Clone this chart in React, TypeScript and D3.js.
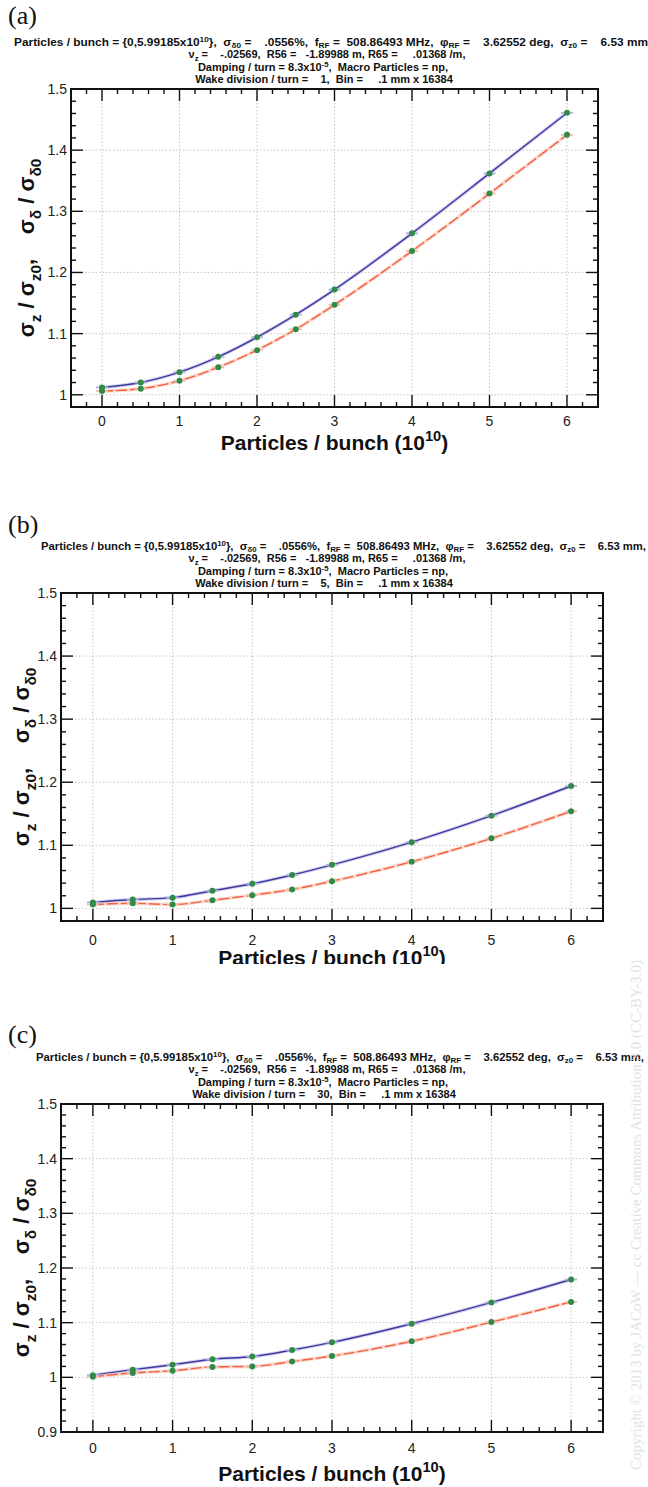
import { useEffect, useRef } from "react";
import * as d3 from "d3";

// particles per bunch (10^10)
const particles = [0, 0.5, 1, 1.5, 2, 2.5, 3, 4, 5, 6];
const xTicks = [0, 1, 2, 3, 4, 5, 6];

// (a) wake division / turn = 1
const sigZA = [1.012, 1.02, 1.037, 1.062, 1.094, 1.131, 1.172, 1.264, 1.362, 1.461];
const sigDA = [1.006, 1.01, 1.023, 1.045, 1.073, 1.107, 1.147, 1.235, 1.329, 1.425];
// (b) wake division / turn = 5
const sigZB = [1.0095, 1.014, 1.017, 1.028, 1.039, 1.053, 1.069, 1.105, 1.147, 1.194];
const sigDB = [1.006, 1.008, 1.006, 1.013, 1.021, 1.03, 1.043, 1.074, 1.111, 1.154];
// (c) wake division / turn = 30
const sigZC = [1.004, 1.014, 1.023, 1.033, 1.038, 1.05, 1.064, 1.098, 1.137, 1.179];
const sigDC = [1.001, 1.008, 1.012, 1.019, 1.02, 1.029, 1.039, 1.066, 1.101, 1.138];

const yTicksAB = [1, 1.1, 1.2, 1.3, 1.4, 1.5];
const yTicksC = [0.9, 1, 1.1, 1.2, 1.3, 1.4, 1.5];
const wakeDivisions = ["1", "5", "30"];
const panelLetters = ["(a)", "(b)", "(c)"];

const BLUE = "#3d3a9c";
const RED = "#f0623e";
const GREEN = "#2f8c46";
const SANS = "'Liberation Sans', Arial, sans-serif";

type Part = [string, ("sub" | "sup")?];

function rich(text: any, parts: Part[], size: number, subOff = 0.3, supOff = 0.42) {
  let off = 0;
  parts.forEach(([s, kind]) => {
    const target = kind === "sub" ? size * subOff : kind === "sup" ? -size * supOff : 0;
    text
      .append("tspan")
      .attr("dy", target - off)
      .attr("font-size", kind ? size * 0.7 : size)
      .text(s);
    off = target;
  });
}

const panels = [
  { x0: 71, x1: 598, y0: 89, y1: 407, yMin: 0.98, yTicks: yTicksAB, z: sigZA, d: sigDA, top: 0, l1: [14, 648], yTitleX: 34, tickBase: 426, titleBase: 450, clip: 0 },
  { x0: 61, x1: 603, y0: 593, y1: 921, yMin: 0.98, yTicks: yTicksAB, z: sigZB, d: sigDB, top: 505, l1: [41, 646], yTitleX: 29, tickBase: 945, titleBase: 965, clip: 964 },
  { x0: 61, x1: 603, y0: 1104, y1: 1432, yMin: 0.9, yTicks: yTicksC, z: sigZC, d: sigDC, top: 1015, l1: [36, 644], yTitleX: 29, tickBase: 1453, titleBase: 1481, clip: 0 },
];

export default function App() {
  const svgRef = useRef<SVGSVGElement>(null);

  useEffect(() => {
    if (!svgRef.current) return;
    const svg = d3.select(svgRef.current);
    svg.selectAll("*").remove();

    panels.forEach((p, i) => {
      const g = svg.append("g");
      const x = d3.scaleLinear().domain([-0.4, 6.4]).range([p.x0, p.x1]);
      const y = d3.scaleLinear().domain([p.yMin, 1.5]).range([p.y1, p.y0]);

      // panel letter
      g.append("text")
        .attr("x", 8)
        .attr("y", i === 0 ? 24 : p.top + 28)
        .attr("font-family", "'Liberation Serif', 'Times New Roman', serif")
        .attr("font-size", 26)
        .attr("fill", "#111")
        .text(panelLetters[i]);

      // header lines
      const hb = p.y0 - 43;
      const header = (row: number) =>
        g.append("text")
          .attr("y", hb + row * 12.4)
          .attr("font-family", SANS)
          .attr("font-weight", "bold")
          .attr("font-size", 11)
          .attr("fill", "#111")
          .style("white-space", "pre");

      const t1 = header(0).attr("x", p.l1[0]).attr("textLength", p.l1[1] - p.l1[0]).attr("lengthAdjust", "spacingAndGlyphs");
      rich(t1, [
        ["Particles / bunch = {0,5.99185x10"], ["10", "sup"], ["},  σ"], ["δ0", "sub"],
        [" =    .0556%,  f"], ["RF", "sub"], [" =  508.86493 MHz,  φ"], ["RF", "sub"],
        [" =    3.62552 deg,  σ"], ["z0", "sub"], [" =    6.53 mm" + (i > 0 ? "," : "")],
      ], 11, 0.2, 0.36);
      const t2 = header(1).attr("x", 327).attr("text-anchor", "middle");
      rich(t2, [["ν"], ["z", "sub"], [" =    -.02569,  R56 =   -1.89988 m, R65 =     .01368 /m,"]], 11, 0.2, 0.36);
      const t3 = header(2).attr("x", 323).attr("text-anchor", "middle");
      rich(t3, [["Damping / turn = 8.3x10"], ["-5", "sup"], [",  Macro Particles = np,"]], 11, 0.2, 0.36);
      const t4 = header(3).attr("x", 324).attr("text-anchor", "middle");
      rich(t4, [["Wake division / turn =    " + wakeDivisions[i] + ",  Bin =     .1 mm x 16384"]], 11);

      // grid
      const grid = g.append("g").attr("stroke", "#b8b8b8").attr("stroke-width", 0.8).attr("stroke-dasharray", "1.5,2");
      xTicks.forEach((t) => grid.append("line").attr("x1", x(t)).attr("x2", x(t)).attr("y1", p.y0).attr("y2", p.y1));
      p.yTicks.forEach((t) => grid.append("line").attr("x1", p.x0).attr("x2", p.x1).attr("y1", y(t)).attr("y2", y(t)));

      // ticks (inside, all four sides)
      const ticks = g.append("g").attr("stroke", "#111").attr("stroke-width", 1.4);
      const xMinor = d3.range(-0.2, 6.3, 0.2).filter((v) => Math.abs(v - Math.round(v)) > 0.01);
      xTicks.forEach((t) => {
        ticks.append("line").attr("x1", x(t)).attr("x2", x(t)).attr("y1", p.y1).attr("y2", p.y1 - 12);
        ticks.append("line").attr("x1", x(t)).attr("x2", x(t)).attr("y1", p.y0).attr("y2", p.y0 + 12);
      });
      xMinor.forEach((t) => {
        ticks.append("line").attr("x1", x(t)).attr("x2", x(t)).attr("y1", p.y1).attr("y2", p.y1 - 5);
        ticks.append("line").attr("x1", x(t)).attr("x2", x(t)).attr("y1", p.y0).attr("y2", p.y0 + 5);
      });
      const yMinor = d3.range(p.yMin, 1.5, 0.02).filter((v) => Math.abs(v * 10 - Math.round(v * 10)) > 0.05 && v > p.yMin + 0.001);
      p.yTicks.forEach((t) => {
        ticks.append("line").attr("x1", p.x0).attr("x2", p.x0 + 12).attr("y1", y(t)).attr("y2", y(t));
        ticks.append("line").attr("x1", p.x1).attr("x2", p.x1 - 12).attr("y1", y(t)).attr("y2", y(t));
      });
      yMinor.forEach((t) => {
        ticks.append("line").attr("x1", p.x0).attr("x2", p.x0 + 5).attr("y1", y(t)).attr("y2", y(t));
        ticks.append("line").attr("x1", p.x1).attr("x2", p.x1 - 5).attr("y1", y(t)).attr("y2", y(t));
      });

      // tick labels
      xTicks.forEach((t) =>
        g.append("text").attr("x", x(t)).attr("y", p.tickBase).attr("text-anchor", "middle")
          .attr("font-family", SANS).attr("font-size", 14).attr("fill", "#222").text(String(t)));
      p.yTicks.forEach((t) =>
        g.append("text").attr("x", p.x0 - 4).attr("y", y(t) + 5).attr("text-anchor", "end")
          .attr("font-family", SANS).attr("font-size", 14).attr("fill", "#222").text(d3.format("")(+t.toFixed(1))));

      // series
      const pts = (vals: number[]) => particles.map((v, k) => [v, vals[k]] as [number, number]);
      const line = d3.line<[number, number]>().x((d) => x(d[0])).y((d) => y(d[1])).curve(d3.curveMonotoneX);
      const series = [
        { vals: p.z, color: BLUE, halo: "#b9b3ea", dash: null },
        { vals: p.d, color: RED, halo: "#f9c0b2", dash: "11,3" },
      ];
      series.forEach((s) => {
        g.append("path").datum(pts(s.vals)).attr("fill", "none").attr("stroke", s.halo)
          .attr("stroke-width", 3.5).attr("stroke-opacity", 0.6).attr("d", line);
        g.append("path").datum(pts(s.vals)).attr("fill", "none").attr("stroke", s.color)
          .attr("stroke-width", 1.4).attr("stroke-dasharray", s.dash).attr("d", line);
      });
      series.forEach((s) => {
        const m = g.append("g");
        pts(s.vals).forEach((d) => {
          m.append("line").attr("x1", x(d[0]) - 6).attr("x2", x(d[0]) + 6).attr("y1", y(d[1])).attr("y2", y(d[1]))
            .attr("stroke", s.halo).attr("stroke-width", 2);
          m.append("circle").attr("cx", x(d[0])).attr("cy", y(d[1])).attr("r", 3).attr("fill", GREEN);
        });
      });

      // frame
      g.append("rect").attr("x", p.x0).attr("y", p.y0).attr("width", p.x1 - p.x0).attr("height", p.y1 - p.y0)
        .attr("fill", "none").attr("stroke", "#111").attr("stroke-width", 2);

      // axis titles
      const yt = g.append("text")
        .attr("transform", `translate(${p.yTitleX},${(p.y0 + p.y1) / 2}) rotate(-90)`)
        .attr("text-anchor", "middle").attr("font-family", SANS).attr("font-weight", "bold")
        .attr("fill", "#111").style("white-space", "pre");
      rich(yt, [["σ"], ["z", "sub"], [" / σ"], ["z0", "sub"], [",    σ"], ["δ", "sub"], [" / σ"], ["δ0", "sub"]], 22);

      let xtHolder: any = g;
      if (p.clip) {
        const id = `clip${i}`;
        svg.append("clipPath").attr("id", id).append("rect").attr("x", 0).attr("y", p.y1).attr("width", 648).attr("height", p.clip - p.y1);
        xtHolder = g.append("g").attr("clip-path", `url(#${id})`);
      }
      const xt = xtHolder.append("text").attr("x", (p.x0 + p.x1) / 2).attr("y", p.titleBase)
        .attr("text-anchor", "middle").attr("font-family", SANS).attr("font-weight", "bold").attr("fill", "#111");
      rich(xt, [["Particles / bunch (10"], ["10", "sup"], [")"]], 21);
    });

    // faint side watermark
    svg.append("text")
      .attr("transform", "translate(641,1215) rotate(-90)")
      .attr("text-anchor", "middle")
      .attr("font-family", "'Liberation Serif', serif")
      .attr("font-size", 15)
      .attr("fill", "#e2e2e2")
      .text("Copyright © 2013 by JACoW — cc Creative Commons Attribution 3.0 (CC-BY-3.0)");
  }, []);

  return (
    <svg
      ref={svgRef}
      width={648}
      height={1487}
      style={{ position: "absolute", left: 0, top: 0, background: "#fff" }}
    />
  );
}
